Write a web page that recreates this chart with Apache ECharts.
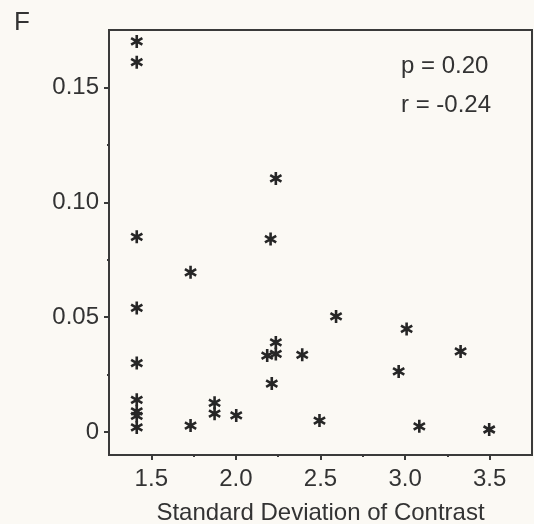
<!DOCTYPE html>
<html>
<head>
<meta charset="utf-8">
<script src="https://cdn.jsdelivr.net/npm/echarts@6/dist/echarts.min.js"></script>
<style>
html,body{margin:0;padding:0;background:#fbf9f4;}
#c{width:534px;height:524px;}
</style>
</head>
<body>
<div id="c"></div>
<script>
// ---- data ----
var xValues = [1.414, 1.414, 1.414, 1.414, 1.414, 1.414, 1.414, 1.414, 1.414,
               1.732, 1.732, 1.874, 1.874, 2.002,
               2.185, 2.205, 2.212, 2.236, 2.236, 2.236,
               2.392, 2.494, 2.592, 2.962, 3.009, 3.084, 3.328, 3.497];
var yValues = [0.170, 0.161, 0.085, 0.054, 0.030, 0.014, 0.009, 0.007, 0.002,
               0.0695, 0.0028, 0.0127, 0.0080, 0.0072,
               0.0333, 0.0840, 0.0211, 0.0390, 0.0340, 0.1104,
               0.0336, 0.0050, 0.0503, 0.0264, 0.0449, 0.0025, 0.0351, 0.0011];
var xTickValues = [1.5, 2.0, 2.5, 3.0, 3.5];
var xTickLabels = ['1.5', '2.0', '2.5', '3.0', '3.5'];
var xMinorTicks = [1.75, 2.25, 2.75, 3.25];
var yTickValues = [0, 0.05, 0.10, 0.15];
var yTickLabels = ['0', '0.05', '0.10', '0.15'];
var yMinorTicks = [0.025, 0.075, 0.125];
var xTitle = 'Standard Deviation of Contrast';
var panelLabel = 'F';
var statLines = ['p = 0.20', 'r = -0.24'];

var points = xValues.map(function (x, i) { return [x, yValues[i]]; });

var AX = '#3a3a3a';
var TXT = '#333333';
var FONT = 'Liberation Sans, Arial, sans-serif';
var starPath = 'path://M40 0L60 0L60 100L40 100Z M11.7 16.3L98.3 66.3L88.3 83.7L1.7 33.7Z M1.7 66.3L88.3 16.3L98.3 33.7L11.7 83.7Z';

function lookup(vals, labs) {
  return function (v) {
    for (var i = 0; i < vals.length; i++) { if (Math.abs(vals[i] - v) < 1e-9) return labs[i]; }
    return '';
  };
}

var gridLeft = 109, gridRight = 2, gridTop = 30, gridBottom = 69;
var W = 534, H = 524;
var gridW = W - gridLeft - gridRight, gridH = H - gridTop - gridBottom;

var chart = echarts.init(document.getElementById('c'), null, {renderer: 'canvas'});
chart.setOption({
  backgroundColor: '#fbf9f4',
  animation: false,
  grid: {left: gridLeft, right: gridRight, top: gridTop, bottom: gridBottom,
         containLabel: false, outerBoundsMode: 'none',
         show: true, borderColor: AX, borderWidth: 2, backgroundColor: 'transparent'},
  xAxis: [{
    type: 'value', min: 1.25, max: 3.75, position: 'bottom',
    name: xTitle, nameLocation: 'middle', nameGap: 46,
    nameTextStyle: {fontFamily: FONT, fontSize: 24, color: TXT},
    axisLine: {show: true, onZero: false, lineStyle: {color: AX, width: 2}},
    axisTick: {show: true, length: 5, customValues: xTickValues, lineStyle: {color: AX, width: 2}},
    axisLabel: {show: true, customValues: xTickValues, formatter: lookup(xTickValues, xTickLabels),
                margin: 12, fontFamily: FONT, fontSize: 24, color: TXT},
    splitLine: {show: false}
  }, {
    type: 'value', min: 1.25, max: 3.75, position: 'top', offset: -gridH,
    axisLine: {show: false},
    axisTick: {show: true, inside: true, length: 2, customValues: xMinorTicks, lineStyle: {color: AX, width: 2}},
    axisLabel: {show: false}, splitLine: {show: false}
  }],
  yAxis: [{
    type: 'value', min: -0.01, max: 0.175, position: 'left',
    axisLine: {show: true, onZero: false, lineStyle: {color: AX, width: 2}},
    axisTick: {show: true, length: 5, customValues: yTickValues, lineStyle: {color: AX, width: 2}},
    axisLabel: {show: true, customValues: yTickValues, formatter: lookup(yTickValues, yTickLabels),
                margin: 10, fontFamily: FONT, fontSize: 24, color: TXT},
    splitLine: {show: false}
  }, {
    type: 'value', min: -0.01, max: 0.175, position: 'right', offset: -gridW,
    axisLine: {show: false},
    axisTick: {show: true, inside: true, length: 2, customValues: yMinorTicks, lineStyle: {color: AX, width: 2}},
    axisLabel: {show: false}, splitLine: {show: false}
  }],
  series: [{
    type: 'scatter', xAxisIndex: 0, yAxisIndex: 0,
    data: points, symbol: starPath, symbolSize: 13, symbolKeepAspect: true,
    itemStyle: {color: '#262626', opacity: 1}
  }],
  graphic: [
    {type: 'text', left: 14, top: 10, style: {text: panelLabel, font: '26px ' + FONT, fill: TXT}},
    {type: 'text', left: 401, top: 54, style: {text: statLines[0], font: '24px ' + FONT, fill: TXT}},
    {type: 'text', left: 401, top: 93, style: {text: statLines[1], font: '24px ' + FONT, fill: TXT}}
  ]
});
</script>
</body>
</html>
